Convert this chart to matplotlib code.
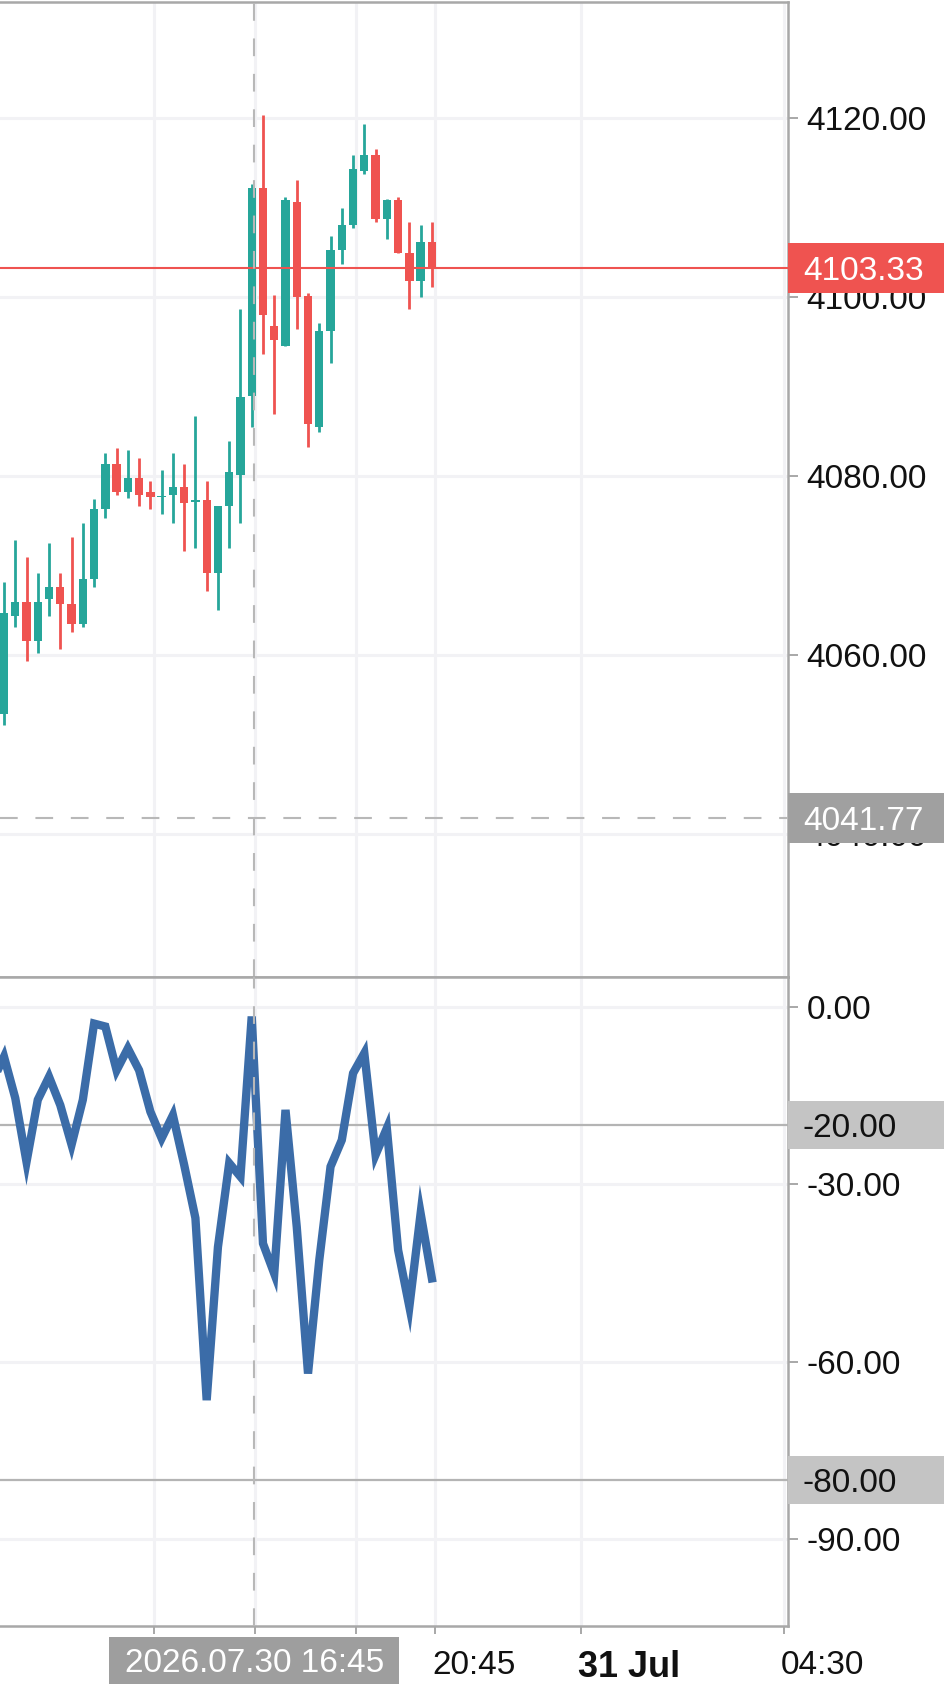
import matplotlib
matplotlib.use("Agg")
import matplotlib.pyplot as plt
import matplotlib.transforms as mtransforms
from matplotlib.patches import Rectangle
import numpy as np

plt.rcParams['font.family'] = ['Liberation Sans', 'DejaVu Sans']

# ---------------- data ----------------
opens = [4053.5, 4064.4, 4066.0, 4061.6, 4066.3, 4067.6, 4065.7, 4063.5, 4068.5, 4076.4,
         4081.4, 4078.3, 4079.8, 4078.2, 4077.65, 4077.9, 4078.8, 4077.1, 4077.35, 4069.2,
         4076.7, 4080.15, 4089.0, 4112.2, 4096.8, 4094.6, 4110.6, 4100.2, 4085.5, 4096.2,
         4105.3, 4108.1, 4114.15, 4115.9, 4108.75, 4110.9, 4104.9, 4101.8, 4106.15]
highs = [4068.2, 4072.9, 4071.0, 4069.2, 4072.6, 4069.2, 4073.2, 4074.8, 4077.5, 4082.6,
         4083.2, 4082.9, 4082.0, 4079.5, 4080.7, 4082.6, 4081.4, 4086.7, 4079.5, 4076.7,
         4083.9, 4098.7, 4112.7, 4120.4, 4100.3, 4111.2, 4113.1, 4100.5, 4097.1, 4106.85,
         4110.0, 4115.9, 4119.4, 4116.6, 4111.0, 4111.2, 4108.4, 4108.1, 4108.4]
lows = [4052.2, 4063.2, 4059.4, 4060.3, 4064.4, 4060.7, 4062.6, 4063.2, 4067.6, 4075.4,
        4077.9, 4077.6, 4076.7, 4076.4, 4075.75, 4074.8, 4071.7, 4072.0, 4067.2, 4065.1,
        4072.0, 4074.8, 4085.5, 4093.7, 4087.0, 4094.6, 4096.5, 4083.3, 4084.9, 4092.7,
        4103.7, 4107.8, 4113.8, 4108.45, 4106.5, 4104.9, 4098.7, 4100.0, 4101.2]
closes = [4064.7, 4066.0, 4061.6, 4066.0, 4067.6, 4065.7, 4063.5, 4068.5, 4076.3, 4081.4,
          4078.3, 4079.8, 4077.9, 4077.65, 4077.85, 4078.8, 4077.0, 4077.35, 4069.2, 4076.7,
          4080.45, 4088.9, 4112.2, 4098.0, 4095.2, 4110.9, 4100.0, 4085.8, 4096.2, 4105.3,
          4108.1, 4114.3, 4115.9, 4108.75, 4110.9, 4105.0, 4101.8, 4106.15, 4103.33]

# Williams %R, starting one bar before the first visible candle
wpr_values = [-12.5, -8.4, -15.4, -26.2, -15.7, -11.8, -16.6, -23.3, -15.7, -2.8,
              -3.3, -10.7, -7.0, -10.7, -17.7, -22.2, -18.3, -26.7, -35.7, -66.5,
              -40.6, -26.4, -28.7, -1.6, -40.0, -45.1, -17.4, -37.2, -62.0, -42.8,
              -27.0, -22.5, -11.2, -7.8, -25.0, -20.5, -41.1, -50.7, -34.9, -45.9]

price_ticks = [4040, 4060, 4080, 4100, 4120]
price_tick_labels = ["4040.00", "4060.00", "4080.00", "4100.00", "4120.00"]
wpr_ticks = [0, -30, -60, -90]
wpr_tick_labels = ["0.00", "-30.00", "-60.00", "-90.00"]
wpr_levels = [-20, -80]
wpr_level_labels = ["-20.00", "-80.00"]

last_price = 4103.33
last_price_label = "4103.33"
cross_price = 4041.77
cross_price_label = "4041.77"
cross_bar = 22
cross_time_label = "2026.07.30 16:45"

time_tick_bars = [13, 22, 31, 38, 51, 69]
time_tick_labels = ["", "", "", "20:45", "31 Jul", "04:30"]

# ---------------- style ----------------
UP = "#26a69a"
DOWN = "#ef5350"
LINE = "#3b6ca8"
GRID = "#f2f2f5"
SPINE = "#a8a8a8"
TXT = "#111111"

W, H = 945.0, 1693.0
AX_R = 788.0
TOP, SPLIT, BOT = 2.0, 977.0, 1626.0
BAR_PX = 11.26

fig = plt.figure(figsize=(W / 100, H / 100), dpi=100)
ax_p = fig.add_axes([0, 1 - SPLIT / H, AX_R / W, (SPLIT - TOP) / H])
ax_w = fig.add_axes([0, 1 - BOT / H, AX_R / W, (BOT - SPLIT) / H], sharex=ax_p)

xlim = (-4.0 / BAR_PX, (AX_R - 4.0) / BAR_PX)
ax_p.set_xlim(*xlim)
ax_p.set_ylim(4024.06, 4133.0)
ax_w.set_ylim(-104.7, 5.08)

tick_off = 0.28
tick_pos = [b + tick_off for b in time_tick_bars]
cross_x = cross_bar + 0.24

for ax in (ax_p, ax_w):
    ax.set_facecolor("white")
    ax.grid(True, color=GRID, lw=2.2)
    ax.set_axisbelow(True)
    ax.spines['left'].set_visible(False)
    for s in ('right', 'top', 'bottom'):
        ax.spines[s].set_color(SPINE)
        ax.spines[s].set_linewidth(1.8)
    ax.yaxis.tick_right()
    ax.tick_params(axis='y', colors=SPINE, labelcolor=TXT, length=7.2, width=1.4,
                   pad=6, labelsize=24)
    ax.axvline(cross_x, color="#b8b8b8", lw=1.5, ls=(0, (8.5, 8.5)), zorder=6)

ax_w.set_xticks(tick_pos)
ax_w.set_xticklabels(time_tick_labels)
ax_p.tick_params(axis='x', length=0, labelbottom=False)
ax_w.tick_params(axis='x', colors=SPINE, labelcolor=TXT, length=6, width=1.4,
                 pad=11.5, labelsize=24)
for lab in ax_w.get_xticklabels():
    lab.set_ha('left')
    lab.set_transform(lab.get_transform() +
                      mtransforms.ScaledTranslation(-3 / 100, 0, fig.dpi_scale_trans))
    if lab.get_text() == "31 Jul":
        lab.set_fontweight('bold')
        lab.set_fontsize(26)

ax_p.set_yticks(price_ticks)
ax_p.set_yticklabels(price_tick_labels)
ax_w.set_yticks(wpr_ticks)
ax_w.set_yticklabels(wpr_tick_labels)

# ---------------- candles ----------------
o = np.array(opens); hi = np.array(highs); lo = np.array(lows); c = np.array(closes)
idx = np.arange(len(o))
cols = np.where(c >= o, UP, DOWN)
ax_p.vlines(idx, lo, hi, colors=cols, lw=2.0, zorder=3)
ax_p.bar(idx, np.maximum(np.abs(c - o), 0.18), bottom=np.minimum(o, c), width=0.74,
         color=cols, linewidth=0, zorder=4)

ax_p.axhline(last_price, color=DOWN, lw=1.5, zorder=5)
ax_p.axhline(cross_price, color="#b8b8b8", lw=1.5, ls=(0, (8.5, 8.5)), zorder=5)

# ---------------- %R ----------------
ax_w.plot(np.arange(-1, len(wpr_values) - 1), wpr_values, color=LINE, lw=6.0,
          solid_joinstyle='miter', zorder=4)
for lv in wpr_levels:
    ax_w.axhline(lv, color="#b4b4b4", lw=1.6, zorder=3)

# ---------------- axis value boxes ----------------
def value_box(ax, y, text, face, tcolor, h_data):
    tr = mtransforms.blended_transform_factory(ax.transAxes, ax.transData)
    ax.add_patch(Rectangle((1.0, y - h_data / 2), 0.3, h_data, transform=tr,
                           facecolor=face, edgecolor='none', clip_on=False, zorder=20))
    ax.text(1.0, y, text, transform=tr + mtransforms.ScaledTranslation(15 / 100, 0, fig.dpi_scale_trans),
            ha='left', va='center_baseline', color=tcolor, fontsize=24,
            clip_on=False, zorder=21)

p_px = (SPLIT - TOP) / (4133.0 - 4024.06)
w_px = (BOT - SPLIT) / (5.08 + 104.7)
value_box(ax_p, last_price, last_price_label, DOWN, "white", 50 / p_px)
value_box(ax_p, cross_price, cross_price_label, "#a0a0a0", "white", 50 / p_px)
for lv, lt in zip(wpr_levels, wpr_level_labels):
    value_box(ax_w, lv, lt, "#c4c4c4", TXT, 48 / w_px)

# crosshair time label
trx = mtransforms.blended_transform_factory(ax_w.transData, ax_w.transAxes)
half_w = 145 / BAR_PX
y_top = -(1637 - BOT) / (BOT - SPLIT)
y_bot = -(1684 - BOT) / (BOT - SPLIT)
ax_w.add_patch(Rectangle((cross_x - half_w, y_bot), 2 * half_w, y_top - y_bot, transform=trx,
                         facecolor="#9e9e9e", edgecolor='none', clip_on=False, zorder=20))
ax_w.text(cross_x, (y_top + y_bot) / 2, cross_time_label, transform=trx, ha='center',
          va='center_baseline', color="white", fontsize=24, clip_on=False, zorder=21)

fig.savefig("out.png", dpi=100, facecolor="white")
